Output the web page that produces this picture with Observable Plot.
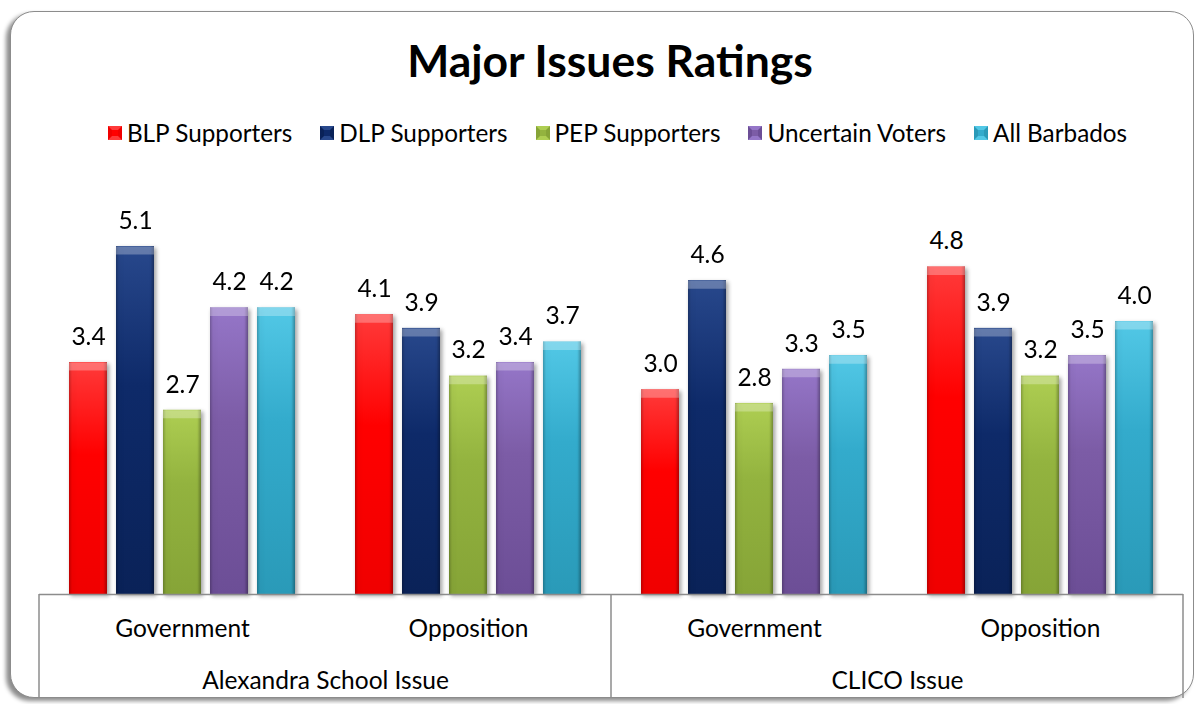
<!DOCTYPE html>
<html>
<head>
<meta charset="utf-8">
<script src="https://cdn.jsdelivr.net/npm/d3@7"></script>
<script src="https://cdn.jsdelivr.net/npm/@observablehq/plot@0.6"></script>
<style>
  html, body { margin: 0; padding: 0; background: #fff; overflow: hidden; }
  body { width: 1203px; height: 704px; position: relative; font-family: Lato, "Open Sans", sans-serif; }
  #frame { position: absolute; left: 10px; top: 11px; width: 1182px; height: 685px;
    border: 1.5px solid #8c8c8c; border-radius: 24px; background: #fff;
    box-shadow: -4px 3px 4px rgba(0,0,0,0.45); }
  #title { position: absolute; left: 0; top: 38px; width: 1220px; text-align: center;
    font-size: 44.5px; line-height: 44px; font-weight: bold; color: #000; }
  #legend { position: absolute; left: 32px; top: 121px; width: 1171px; display: flex;
    justify-content: center; gap: 28px; font-size: 24.3px; line-height: 23px; color: #000; }
  .item { display: flex; align-items: center; gap: 5px; white-space: nowrap; }
  .swatch { width: 6px; height: 6px; border-style: solid; border-width: 4px; }
  #chart { position: absolute; left: 0; top: 160px; }
</style>
</head>
<body>
<div id="frame"></div>
<div id="title">Major Issues Ratings</div>
<div id="legend"></div>
<div id="chart"></div>
<script>
// ---- data ----
const issues = ["Alexandra School Issue", "CLICO Issue"];
const sides = ["Government", "Opposition"];
const series = ["BLP Supporters", "DLP Supporters", "PEP Supporters", "Uncertain Voters", "All Barbados"];
const alexandraGovernment = [3.4, 5.1, 2.7, 4.2, 4.2];
const alexandraOpposition = [4.1, 3.9, 3.2, 3.4, 3.7];
const clicoGovernment = [3.0, 4.6, 2.8, 3.3, 3.5];
const clicoOpposition = [4.8, 3.9, 3.2, 3.5, 4.0];
const baseColors = ["#FF0000", "#0E2A69", "#93B33F", "#7C5CA6", "#33ABCC"];
const lightColors = ["#FF3A3A", "#28488C", "#AECE52", "#9576C8", "#52C8E6"];
const darkColors = ["#F00000", "#0A2258", "#86A437", "#6C4E96", "#2A9AB8"];

const valuesByGroup = [alexandraGovernment, alexandraOpposition, clicoGovernment, clicoOpposition];
const groups = [];
issues.forEach(issue => sides.forEach(side => groups.push({key: issue + "|" + side, issue, side})));
const rows = [];
groups.forEach((g, gi) => series.forEach((s, si) => rows.push({group: g.key, series: s, si, value: valuesByGroup[gi][si]})));
const issueRows = issues.map(issue => ({issue, group: issue + "|" + sides[0]}));

// ---- legend ----
const legend = document.getElementById("legend");
series.forEach((s, i) => {
  const it = document.createElement("div");
  it.className = "item";
  const sw = document.createElement("span");
  sw.className = "swatch";
  sw.style.background = baseColors[i];
  sw.style.borderColor = `${lightColors[i]} ${darkColors[i]} ${lightColors[i]} ${darkColors[i]}`;
  const tx = document.createElement("span");
  tx.textContent = s;
  it.appendChild(sw); it.appendChild(tx);
  legend.appendChild(it);
});

// ---- chart ----
const FS = 24.5;
const chart = Plot.plot({
  width: 1203,
  height: 544,
  marginTop: 24.6,
  marginBottom: 110,
  marginLeft: 38,
  marginRight: 19,
  style: {background: "transparent", fontFamily: "Lato, 'Open Sans', sans-serif", color: "#000"},
  fx: {domain: groups.map(g => g.key), padding: 0, axis: null},
  x: {domain: series, paddingInner: 0.2, paddingOuter: 0.584, axis: null},
  y: {domain: [0, 6], axis: null},
  color: {type: "identity"},
  marks: [
    Plot.barY(rows, {fx: "group", x: "series", y: "value", fill: d => `url(#grad${d.si})`}),
    Plot.barY(rows, {fx: "group", x: "series", y: "value", fill: "url(#edgeShade)"}),
    Plot.tickY(rows, {fx: "group", x: "series", y: "value", stroke: "white", strokeOpacity: 0.28, strokeWidth: 8, dy: 4}),
    Plot.ruleY([0], {stroke: "#8c8c8c", strokeWidth: 1.5}),
    Plot.text(rows, {fx: "group", x: "series", y: "value", text: d => d.value.toFixed(1), dy: -25.5, fontSize: FS, fill: "#000"}),
    Plot.text(groups, {fx: "key", text: "side", frameAnchor: "bottom", dy: 42, fontSize: FS, fill: "#000"}),
    Plot.text(issueRows, {fx: "group", text: "issue", frameAnchor: "bottom-right", textAnchor: "middle", dy: 94, fontSize: FS, fill: "#000"})
  ]
});
document.getElementById("chart").appendChild(chart);

// gradients
const svg = d3.select(chart);
const defs = svg.insert("defs", ":first-child");
baseColors.forEach((c, i) => {
  const g = defs.append("linearGradient").attr("id", `grad${i}`).attr("x1", 0).attr("y1", 0).attr("x2", 0).attr("y2", 1);
  g.append("stop").attr("offset", "0%").attr("stop-color", lightColors[i]);
  g.append("stop").attr("offset", "40%").attr("stop-color", baseColors[i]);
  g.append("stop").attr("offset", "100%").attr("stop-color", darkColors[i]);
});
const eg = defs.append("linearGradient").attr("id", "edgeShade").attr("x1", 0).attr("y1", 0).attr("x2", 1).attr("y2", 0);
eg.append("stop").attr("offset", "0%").attr("stop-color", "#000").attr("stop-opacity", 0.22);
eg.append("stop").attr("offset", "8%").attr("stop-color", "#000").attr("stop-opacity", 0);
eg.append("stop").attr("offset", "90%").attr("stop-color", "#000").attr("stop-opacity", 0);
eg.append("stop").attr("offset", "100%").attr("stop-color", "#000").attr("stop-opacity", 0.28);

svg.selectAll('g[aria-label="bar"]').style("filter", "drop-shadow(2px 2px 2px rgba(0,0,0,0.35))");

// table separators drawn from the fx / y scales
const fx = chart.scale("fx");
const y = chart.scale("y");
const y0 = y.apply(0);
const yBottom = 538;
const xs = [fx.apply(groups[0].key), fx.apply(groups[2].key), fx.apply(groups[3].key) + fx.bandwidth];
svg.append("g").selectAll("line").data(xs).join("line")
  .attr("x1", d => d).attr("x2", d => d).attr("y1", y0).attr("y2", yBottom)
  .attr("stroke", "#8c8c8c").attr("stroke-width", 1.5);
</script>
</body>
</html>
